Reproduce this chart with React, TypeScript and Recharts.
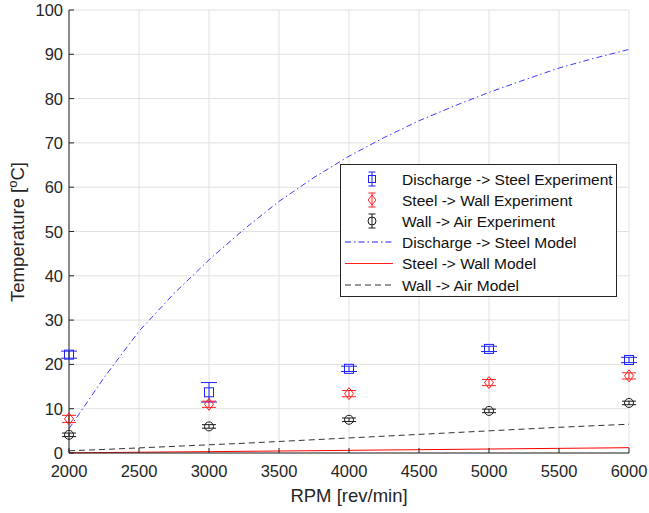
import React from "react";
import {
  ComposedChart,
  Line,
  Scatter,
  ErrorBar,
  XAxis,
  YAxis,
  CartesianGrid,
} from "recharts";

// experiment points
const rpmExp = [2000, 3000, 4000, 5000, 6000];
const dischargeSteelExp = [22.2, 13.7, 19.0, 23.5, 21.0];
const dischargeSteelErr = [0.8, 2.2, 0.6, 0.6, 0.6];
const steelWallExp = [7.7, 11.0, 13.4, 15.9, 17.4];
const steelWallErr = [0.8, 0.7, 0.7, 0.7, 0.7];
const wallAirExp = [4.1, 6.0, 7.5, 9.5, 11.3];
const wallAirErr = [0.4, 0.4, 0.4, 0.4, 0.4];

// model curves
const rpmModel = [
  2000, 2250, 2500, 2750, 3000, 3250, 3500, 3750, 4000, 4250, 4500, 4750, 5000,
  5250, 5500, 5750, 6000,
];
const dischargeSteelModel = [
  5.5, 17, 27.5, 36, 43.6, 50.5, 56.8, 62.2, 67, 71.2, 75, 78.3, 81.4, 84.2,
  86.9, 89.1, 91.1,
];
const steelWallModel = [
  0.05, 0.1, 0.17, 0.24, 0.3, 0.38, 0.45, 0.52, 0.6, 0.68, 0.75, 0.82, 0.9,
  0.98, 1.05, 1.12, 1.2,
];
const wallAirModel = [
  0.5, 0.8, 1.15, 1.5, 1.85, 2.2, 2.6, 3.0, 3.4, 3.8, 4.2, 4.6, 5.0, 5.4, 5.8,
  6.15, 6.5,
];

const xTicks = [2000, 2500, 3000, 3500, 4000, 4500, 5000, 5500, 6000];
const yTicks = [0, 10, 20, 30, 40, 50, 60, 70, 80, 90, 100];

const legendLabels = [
  "Discharge -> Steel Experiment",
  "Steel -> Wall Experiment",
  "Wall -> Air Experiment",
  "Discharge -> Steel Model",
  "Steel -> Wall Model",
  "Wall -> Air Model",
];

const FONT = "'Liberation Sans', Arial, Helvetica, sans-serif";
const AXIS = "#262626";
const BLUE = "#1f1fff";
const RED = "#ff1f1f";
const BLACK = "#1a1a1a";

const modelData = rpmModel.map((rpm, i) => ({
  rpm,
  ds: dischargeSteelModel[i],
  sw: steelWallModel[i],
  wa: wallAirModel[i],
}));

const expData = (vals: number[], errs: number[]) =>
  rpmExp.map((rpm, i) => ({ rpm, value: vals[i], err: errs[i] }));

const SquareMark = ({ cx, cy }: any) => (
  <rect x={cx - 4.5} y={cy - 4.5} width={9} height={9} fill="none" stroke={BLUE} />
);
const DiamondMark = ({ cx, cy }: any) => (
  <path
    d={`M${cx},${cy - 6}L${cx + 4.5},${cy}L${cx},${cy + 6}L${cx - 4.5},${cy}Z`}
    fill="none"
    stroke={RED}
  />
);
const CircleMark = ({ cx, cy }: any) => (
  <circle cx={cx} cy={cy} r={4.5} fill="none" stroke={BLACK} />
);

const XTick = ({ x, y, payload }: any) => (
  <g>
    <line x1={x} x2={x} y1={y} y2={y - 5} stroke={AXIS} />
    <text
      x={x}
      y={y + 24}
      textAnchor="middle"
      fill={AXIS}
      fontSize={16.5}
      fontFamily={FONT}
    >
      {payload.value}
    </text>
  </g>
);

const YTick = ({ x, y, payload }: any) => (
  <g>
    <line x1={x} x2={x + 5} y1={y} y2={y} stroke={AXIS} />
    <text
      x={x - 6}
      y={y + 6}
      textAnchor="end"
      fill={AXIS}
      fontSize={16.5}
      fontFamily={FONT}
    >
      {payload.value}
    </text>
  </g>
);

function LegendBox() {
  const rowY = [15, 36, 57, 78, 99.5, 121];
  const mx = 32;
  return (
    <svg width={277} height={133} style={{ display: "block" }}>
      <rect x={0.5} y={0.5} width={276} height={132} fill="#fff" stroke={AXIS} />
      {/* experiment markers with error bars */}
      {[BLUE, RED, BLACK].map((c, i) => {
        const y = rowY[i];
        return (
          <g key={c} stroke={c} fill="none">
            <line x1={mx} x2={mx} y1={y - 7} y2={y + 7} />
            <line x1={mx - 3.5} x2={mx + 3.5} y1={y - 7} y2={y - 7} />
            <line x1={mx - 3.5} x2={mx + 3.5} y1={y + 7} y2={y + 7} />
            {i === 0 && <rect x={mx - 3.5} y={y - 3.5} width={7} height={7} />}
            {i === 1 && (
              <path d={`M${mx},${y - 5}L${mx + 4},${y}L${mx},${y + 5}L${mx - 4},${y}Z`} />
            )}
            {i === 2 && <circle cx={mx} cy={y} r={4} />}
          </g>
        );
      })}
      <line x1={5} x2={53} y1={rowY[3]} y2={rowY[3]} stroke={BLUE} strokeDasharray="6 3 1.5 3" />
      <line x1={5} x2={53} y1={rowY[4]} y2={rowY[4]} stroke={RED} />
      <line x1={5} x2={53} y1={rowY[5]} y2={rowY[5]} stroke="#333" strokeDasharray="6 4" />
      {legendLabels.map((t, i) => (
        <text
          key={t}
          x={62}
          y={rowY[i] + 5.5}
          fontSize={15.5}
          fontFamily={FONT}
          fill="#111"
        >
          {t}
        </text>
      ))}
    </svg>
  );
}

export default function App() {
  return (
    <div
      style={{
        position: "absolute",
        left: 0,
        top: 0,
        width: 649,
        height: 513,
        background: "#fff",
      }}
    >
      <ComposedChart
        width={649}
        height={513}
        data={modelData}
        margin={{ top: 10, right: 20, bottom: 0, left: 0 }}
      >
        <CartesianGrid stroke="#e0e0e0" />
        <XAxis
          type="number"
          dataKey="rpm"
          domain={[2000, 6000]}
          ticks={xTicks}
          height={60}
          tickSize={0}
          tickMargin={0}
          tickLine={false}
          axisLine={{ stroke: AXIS }}
          tick={XTick}
          label={(props: any) => (
            <text
              x={349}
              y={502}
              textAnchor="middle"
              fontSize={18.5}
              fontFamily={FONT}
              fill={AXIS}
            >
              RPM [rev/min]
            </text>
          )}
        />
        <YAxis
          type="number"
          domain={[0, 100]}
          ticks={yTicks}
          width={69}
          tickSize={0}
          tickMargin={0}
          tickLine={false}
          axisLine={{ stroke: AXIS }}
          tick={YTick}
          label={(props: any) => (
            <text
              transform="translate(24,232) rotate(-90)"
              textAnchor="middle"
              fontSize={18.5}
              fontFamily={FONT}
              fill={AXIS}
            >
              Temperature [<tspan dy={-7} fontSize={13}>o</tspan>
              <tspan dy={7}>C]</tspan>
            </text>
          )}
        />
        <Scatter
          data={expData(dischargeSteelExp, dischargeSteelErr)}
          dataKey="value"
          shape={SquareMark}
          isAnimationActive={false}
        >
          <ErrorBar dataKey="err" direction="y" width={8} stroke={BLUE} strokeWidth={1} />
        </Scatter>
        <Scatter
          data={expData(steelWallExp, steelWallErr)}
          dataKey="value"
          shape={DiamondMark}
          isAnimationActive={false}
        >
          <ErrorBar dataKey="err" direction="y" width={7} stroke={RED} strokeWidth={1} />
        </Scatter>
        <Scatter
          data={expData(wallAirExp, wallAirErr)}
          dataKey="value"
          shape={CircleMark}
          isAnimationActive={false}
        >
          <ErrorBar dataKey="err" direction="y" width={7} stroke={BLACK} strokeWidth={1} />
        </Scatter>
        <Line
          type="linear"
          dataKey="ds"
          stroke="#3b3bff"
          strokeWidth={1}
          strokeDasharray="6 3 1.5 3"
          dot={false}
          isAnimationActive={false}
        />
        <Line
          type="linear"
          dataKey="sw"
          stroke="#ff0000"
          strokeWidth={1}
          dot={false}
          isAnimationActive={false}
        />
        <Line
          type="linear"
          dataKey="wa"
          stroke="#333"
          strokeWidth={1}
          strokeDasharray="6 4"
          dot={false}
          isAnimationActive={false}
        />
      </ComposedChart>
      <div style={{ position: "absolute", left: 340, top: 164 }}>
        <LegendBox />
      </div>
    </div>
  );
}
